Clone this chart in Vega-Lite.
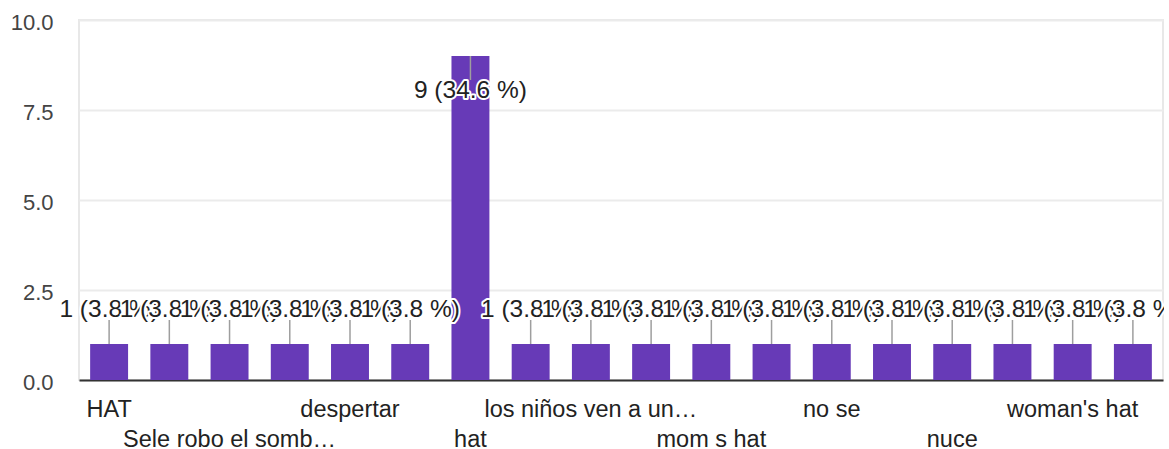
{
  "$schema": "https://vega.github.io/schema/vega-lite/v6.json",
  "autosize": {"type": "none"},
  "padding": {"left": 79, "top": 20, "right": 1, "bottom": 69},
  "width": 1084,
  "height": 360,
  "background": "white",
  "config": {
    "view": {"stroke": "#e8e8e8", "strokeWidth": 2},
    "font": "Liberation Sans"
  },
  "data": {
    "values": [
      {"answer": "HAT", "count": 1, "pct": 3.8},
      {"answer": "Hat", "count": 1, "pct": 3.8},
      {"answer": "Sele robo el somb…", "count": 1, "pct": 3.8},
      {"answer": "Un sombrero", "count": 1, "pct": 3.8},
      {"answer": "despertar", "count": 1, "pct": 3.8},
      {"answer": "el sombrero", "count": 1, "pct": 3.8},
      {"answer": "hat", "count": 9, "pct": 34.6},
      {"answer": "hats", "count": 1, "pct": 3.8},
      {"answer": "los niños ven a un…", "count": 1, "pct": 3.8},
      {"answer": "mom hat", "count": 1, "pct": 3.8},
      {"answer": "mom s hat", "count": 1, "pct": 3.8},
      {"answer": "mothers hat", "count": 1, "pct": 3.8},
      {"answer": "no se", "count": 1, "pct": 3.8},
      {"answer": "no sé", "count": 1, "pct": 3.8},
      {"answer": "nuce", "count": 1, "pct": 3.8},
      {"answer": "sombrero", "count": 1, "pct": 3.8},
      {"answer": "woman's hat", "count": 1, "pct": 3.8},
      {"answer": "womans hat", "count": 1, "pct": 3.8}
    ]
  },
  "encoding": {
    "x": {
      "field": "answer",
      "type": "nominal",
      "sort": null,
      "title": null,
      "scale": {"paddingInner": 0.37, "paddingOuter": 0.185},
      "axis": {
        "labelAngle": 0,
        "labelExpr": "round(datum.index * 17) % 4 == 0 ? datum.label : (round(datum.index * 17) % 4 == 2 ? ['', datum.label] : '')",
        "labelBaseline": "alphabetic",
        "labelPadding": 36,
        "labelLineHeight": 30,
        "labelFontSize": 23.5,
        "labelColor": "#222222",
        "labelLimit": 400,
        "labelOverlap": false,
        "ticks": false,
        "tickSize": 0,
        "domainColor": "#333333",
        "domainWidth": 2,
        "grid": false
      }
    },
    "y": {
      "field": "count",
      "type": "quantitative",
      "title": null,
      "scale": {"domain": [0, 10]},
      "axis": {
        "values": [0, 2.5, 5, 7.5, 10],
        "format": ".1f",
        "labelFontSize": 22,
        "labelColor": "#444444",
        "labelPadding": 26,
        "labelOffset": 2,
        "ticks": false,
        "tickSize": 0,
        "domain": false,
        "gridColor": "#ebebeb",
        "gridWidth": 2
      }
    }
  },
  "layer": [
    {"mark": {"type": "bar", "color": "#673ab7"}},
    {
      "transform": [{"filter": "datum.count < 5"}],
      "mark": {"type": "rule", "color": "#9e9e9e", "strokeWidth": 1.5, "y2Offset": -24},
      "encoding": {"y2": {"field": "count"}}
    },
    {
      "transform": [{"filter": "datum.count >= 5"}],
      "mark": {"type": "rule", "color": "#9e9e9e", "strokeWidth": 1.5, "y2Offset": 24},
      "encoding": {"y2": {"field": "count"}}
    },
    {
      "transform": [
        {"filter": "datum.count < 5"},
        {"calculate": "['halo', 'text']", "as": "part"},
        {"flatten": ["part"]},
        {"calculate": "datum.count + ' (' + format(datum.pct, '.1f') + ' %)'", "as": "label"}
      ],
      "mark": {"type": "text", "fontSize": 24.5, "baseline": "alphabetic", "dy": -27, "strokeJoin": "round"},
      "encoding": {
        "text": {"field": "label"},
        "fill": {"condition": {"test": "datum.part == 'halo'", "value": "white"}, "value": "#222222"},
        "stroke": {"condition": {"test": "datum.part == 'halo'", "value": "white"}, "value": "transparent"},
        "strokeWidth": {"condition": {"test": "datum.part == 'halo'", "value": 4}, "value": 0}
      }
    },
    {
      "transform": [
        {"filter": "datum.count >= 5"},
        {"calculate": "['halo', 'text']", "as": "part"},
        {"flatten": ["part"]},
        {"calculate": "datum.count + ' (' + format(datum.pct, '.1f') + ' %)'", "as": "label"}
      ],
      "mark": {"type": "text", "fontSize": 24.5, "baseline": "alphabetic", "dy": 42, "strokeJoin": "round"},
      "encoding": {
        "text": {"field": "label"},
        "fill": {"condition": {"test": "datum.part == 'halo'", "value": "white"}, "value": "#222222"},
        "stroke": {"condition": {"test": "datum.part == 'halo'", "value": "white"}, "value": "transparent"},
        "strokeWidth": {"condition": {"test": "datum.part == 'halo'", "value": 4}, "value": 0}
      }
    }
  ]
}
